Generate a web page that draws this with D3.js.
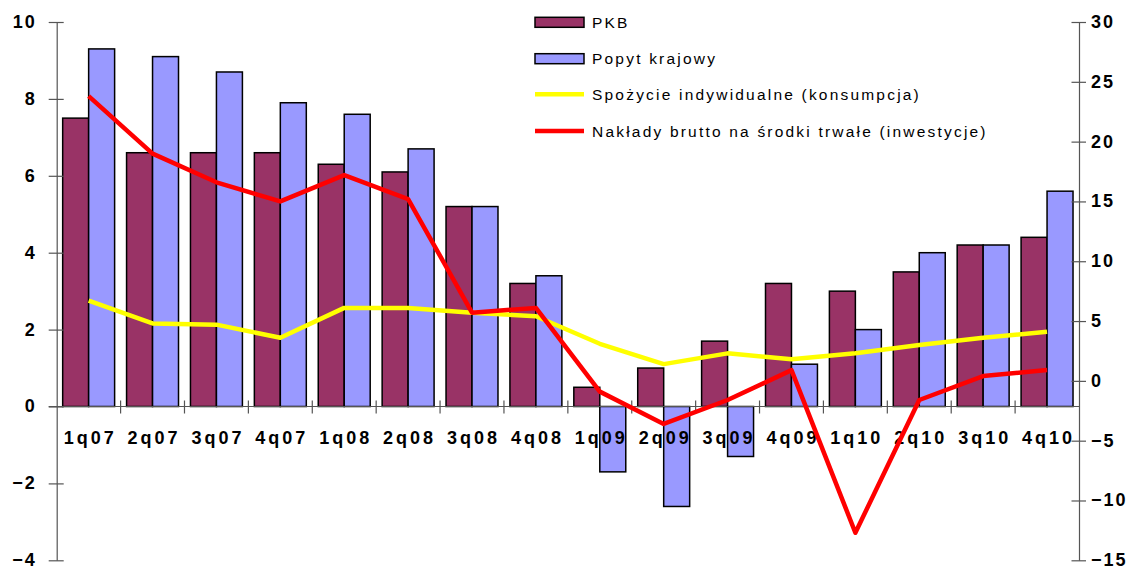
<!DOCTYPE html>
<html>
<head>
<meta charset="utf-8">
<script src="https://cdn.jsdelivr.net/npm/d3@7"></script>
<style>
  body { margin: 0; background: #fff; }
  svg { display: block; font-family: "Liberation Sans", Arial, sans-serif; }
</style>
</head>
<body>
<div id="chart"></div>
<script>
// quarters on the x axis
let quarters = ["1q07", "2q07", "3q07", "4q07", "1q08", "2q08", "3q08", "4q08",
                "1q09", "2q09", "3q09", "4q09", "1q10", "2q10", "3q10", "4q10"];
// bars, left axis
let pkb   = [7.5, 6.6, 6.6, 6.6, 6.3, 6.1, 5.2, 3.2, 0.5, 1.0, 1.7, 3.2, 3.0, 3.5, 4.2, 4.4];
let popyt = [9.3, 9.1, 8.7, 7.9, 7.6, 6.7, 5.2, 3.4, -1.7, -2.6, -1.3, 1.1, 2.0, 4.0, 4.2, 5.6];
// lines, right axis
let konsumpcja = [6.7, 4.8, 4.7, 3.6, 6.1, 6.1, 5.7, 5.4, 3.1, 1.4, 2.3, 1.8, 2.3, 3.0, 3.6, 4.1];
let inwestycje = [23.8, 19.0, 16.6, 15.0, 17.2, 15.2, 5.7, 6.1, -0.9, -3.6, -1.6, 0.9, -12.7, -1.6, 0.4, 0.9];
let leftTicks = [-4, -2, 0, 2, 4, 6, 8, 10];
let rightTicks = [-15, -10, -5, 0, 5, 10, 15, 20, 25, 30];
let seriesNames = ["PKB", "Popyt krajowy", "Spożycie indywidualne (konsumpcja)", "Nakłady brutto na środki trwałe (inwestycje)"];

let W = 1129, H = 568;
let plotLeft = 56.7, plotRight = 1079, plotTop = 22, plotBottom = 560.3;

let svg = d3.select("#chart").append("svg")
    .attr("width", W)
    .attr("height", H);

let x0 = d3.scaleBand().domain(quarters).range([plotLeft, plotRight]).padding(0);
let x1 = d3.scaleBand().domain(["pkb", "popyt"]).range([0, x0.bandwidth()]).paddingInner(0).paddingOuter(0.23);
let yL = d3.scaleLinear().domain([-4, 10]).range([plotBottom, plotTop]);
let yR = d3.scaleLinear().domain([-15, 30]).range([plotBottom, plotTop]);

let axisColor = "#555";

// bars
let barData = quarters.map((q, i) => [{ q: q, k: "pkb", v: pkb[i] }, { q: q, k: "popyt", v: popyt[i] }]);
let colors = { pkb: "#993366", popyt: "#9999FF" };
svg.append("g").selectAll("g")
    .data(barData)
    .enter()
    .append("g")
    .selectAll("rect")
    .data(d => d)
    .enter()
    .append("rect")
    .attr("x", d => x0(d.q) + x1(d.k))
    .attr("y", d => yL(Math.max(0, d.v)))
    .attr("width", x1.bandwidth())
    .attr("height", d => Math.abs(yL(d.v) - yL(0)))
    .attr("fill", d => colors[d.k])
    .attr("stroke", "#000")
    .attr("stroke-width", 1.5);

// left axis
let gL = svg.append("g")
    .attr("transform", "translate(" + plotLeft + ",0)")
    .call(d3.axisLeft(yL).tickValues(leftTicks).tickFormat(d3.format("d")).tickSizeOuter(0));
gL.select(".domain").attr("stroke", axisColor).attr("stroke-width", 1.2);
gL.selectAll(".tick line").attr("x1", -8).attr("x2", 7).attr("stroke", axisColor).attr("stroke-width", 1.2);
gL.selectAll(".tick text")
    .attr("x", -20).attr("dy", "0.3em")
    .attr("fill", "#000").attr("font-size", 18).attr("font-weight", "bold")
    .attr("font-family", "Liberation Sans, Arial, sans-serif")
    .attr("letter-spacing", 2);

// right axis
let gR = svg.append("g")
    .attr("transform", "translate(" + plotRight + ",0)")
    .call(d3.axisRight(yR).tickValues(rightTicks).tickFormat(d3.format("d")).tickSizeOuter(0));
gR.select(".domain").attr("stroke", axisColor).attr("stroke-width", 1.2);
gR.selectAll(".tick line").attr("x1", -7.5).attr("x2", 7).attr("stroke", axisColor).attr("stroke-width", 1.2);
gR.selectAll(".tick text")
    .attr("x", 12).attr("dy", "0.3em")
    .attr("fill", "#000").attr("font-size", 18).attr("font-weight", "bold")
    .attr("font-family", "Liberation Sans, Arial, sans-serif")
    .attr("letter-spacing", 2);

// category axis at zero of left scale
let gX = svg.append("g")
    .attr("transform", "translate(0," + yL(0) + ")");
gX.append("line")
    .attr("x1", plotLeft - 8).attr("x2", plotRight)
    .attr("stroke", axisColor).attr("stroke-width", 1.2);
gX.selectAll("line.tk")
    .data(quarters.slice(1))
    .enter()
    .append("line")
    .attr("class", "tk")
    .attr("x1", d => x0(d)).attr("x2", d => x0(d))
    .attr("y1", -6).attr("y2", 7)
    .attr("stroke", axisColor).attr("stroke-width", 1.2);
gX.selectAll("text")
    .data(quarters)
    .enter()
    .append("text")
    .attr("x", d => x0(d) + x0.bandwidth() / 2 + 1.5)
    .attr("y", 37)
    .attr("text-anchor", "middle")
    .attr("font-size", 18).attr("font-weight", "bold")
    .attr("letter-spacing", 3)
    .text(d => d);

// lines
let line = d3.line()
    .x((d, i) => x0(quarters[i]) + x0.bandwidth() / 2)
    .y(d => yR(d));
svg.append("path")
    .datum(konsumpcja)
    .attr("d", line)
    .attr("fill", "none").attr("stroke", "#FFFF00").attr("stroke-width", 4.5)
    .attr("stroke-linejoin", "round");
svg.append("path")
    .datum(inwestycje)
    .attr("d", line)
    .attr("fill", "none").attr("stroke", "#FF0000").attr("stroke-width", 4.5)
    .attr("stroke-linejoin", "round");

// legend
let legend = svg.append("g").attr("transform", "translate(535,0)");
let rowY = [22.3, 58.7, 94.3, 131];
let kinds = ["rect", "rect", "line", "line"];
let swatch = ["#993366", "#9999FF", "#FFFF00", "#FF0000"];
seriesNames.forEach((name, i) => {
    if (kinds[i] === "rect") {
        legend.append("rect")
            .attr("x", 0).attr("y", rowY[i] - 5)
            .attr("width", 49).attr("height", 10)
            .attr("fill", swatch[i]).attr("stroke", "#000").attr("stroke-width", 1.5);
    } else {
        legend.append("line")
            .attr("x1", 0).attr("x2", 49)
            .attr("y1", rowY[i]).attr("y2", rowY[i])
            .attr("stroke", swatch[i]).attr("stroke-width", 4.5);
    }
    legend.append("text")
        .attr("x", 57).attr("y", rowY[i] + 5.5)
        .attr("font-size", 15.5)
        .attr("letter-spacing", 2.2)
        .text(name);
});
</script>
</body>
</html>
